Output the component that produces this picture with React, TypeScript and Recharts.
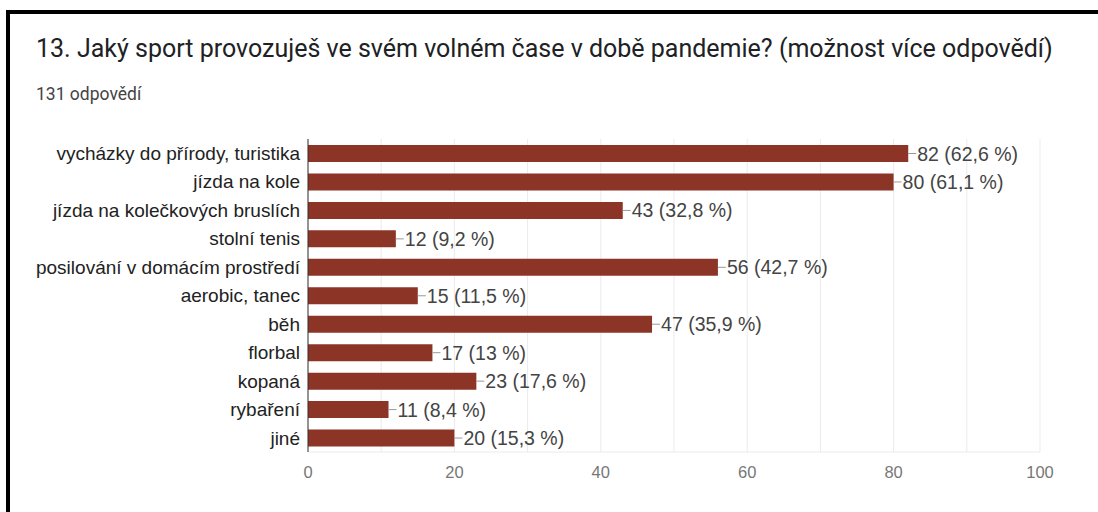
import React from 'react';
import { BarChart, Bar, XAxis, YAxis, CartesianGrid, LabelList } from 'recharts';

const categories = [
  'vycházky do přírody, turistika',
  'jízda na kole',
  'jízda na kolečkových bruslích',
  'stolní tenis',
  'posilování v domácím prostředí',
  'aerobic, tanec',
  'běh',
  'florbal',
  'kopaná',
  'rybaření',
  'jiné',
];
const counts = [82, 80, 43, 12, 56, 15, 47, 17, 23, 11, 20];
const percents = ['62,6', '61,1', '32,8', '9,2', '42,7', '11,5', '35,9', '13', '17,6', '8,4', '15,3'];
const xTicks = [0, 10, 20, 30, 40, 50, 60, 70, 80, 90, 100];
const xLabelTicks = [0, 20, 40, 60, 80, 100];

const data = categories.map((c, i) => ({ name: c, value: counts[i], label: `${counts[i]} (${percents[i]} %)` }));

const BAR_COLOR = '#8c3527';
const FONT = "'Liberation Sans', Arial, sans-serif";

const ValueLabel = (props: any) => {
  const { x, y, width, height, value } = props;
  const x0 = Number(x) + Number(width);
  const cy = Number(y) + Number(height) / 2;
  return (
    <g>
      <line x1={x0} y1={cy} x2={x0 + 8} y2={cy} stroke="#9a9a9a" strokeWidth={1} />
      <text x={x0 + 9} y={cy} dy="0.36em" fontSize={19.5} fill="#444" fontFamily={FONT}>
        {value}
      </text>
    </g>
  );
};

const XTick = (props: any) => {
  const { x, y, payload } = props;
  if (!xLabelTicks.includes(payload.value)) return null;
  return (
    <text x={x} y={y + 18} textAnchor="middle" fontSize={16.5} fill="#777" fontFamily={FONT}>
      {payload.value}
    </text>
  );
};

export default function App() {
  return (
    <div style={{ position: 'absolute', left: 0, top: 0, width: 1098, height: 512, background: '#fff', overflow: 'hidden' }}>
      <div style={{ position: 'absolute', left: 6, top: 10, width: 1200, height: 600, borderTop: '4px solid #000', borderLeft: '4px solid #000', boxSizing: 'border-box' }} />
      <div style={{ position: 'absolute', left: 36, top: 34, fontFamily: 'Roboto, sans-serif', fontSize: 25, color: '#202124', whiteSpace: 'nowrap' }}>
        13. Jaký sport provozuješ ve svém volném čase v době pandemie? (možnost více odpovědí)
      </div>
      <div style={{ position: 'absolute', left: 36, top: 84, fontFamily: 'Roboto, sans-serif', fontSize: 17.5, color: '#444', whiteSpace: 'nowrap' }}>
        131 odpovědí
      </div>
      <div style={{ position: 'absolute', left: 0, top: 0 }}>
        <BarChart width={1098} height={512} data={data} layout="vertical" margin={{ top: 139, right: 58, bottom: 30, left: 8 }}>
          <CartesianGrid horizontal={false} vertical={true} stroke="#ebebeb" />
          <XAxis type="number" domain={[0, 100]} ticks={xTicks} interval={0} tickLine={false} axisLine={{ stroke: '#ebebeb' }} tick={<XTick />} height={30} />
          <YAxis
            type="category"
            dataKey="name"
            width={300}
            tickLine={false}
            axisLine={{ stroke: '#333' }}
            interval={0}
            tick={{ fontSize: 19, fill: '#222', fontFamily: FONT }}
          />
          <Bar dataKey="value" fill={BAR_COLOR} barSize={17} isAnimationActive={false}>
            <LabelList dataKey="label" content={<ValueLabel />} />
          </Bar>
        </BarChart>
      </div>
    </div>
  );
}
